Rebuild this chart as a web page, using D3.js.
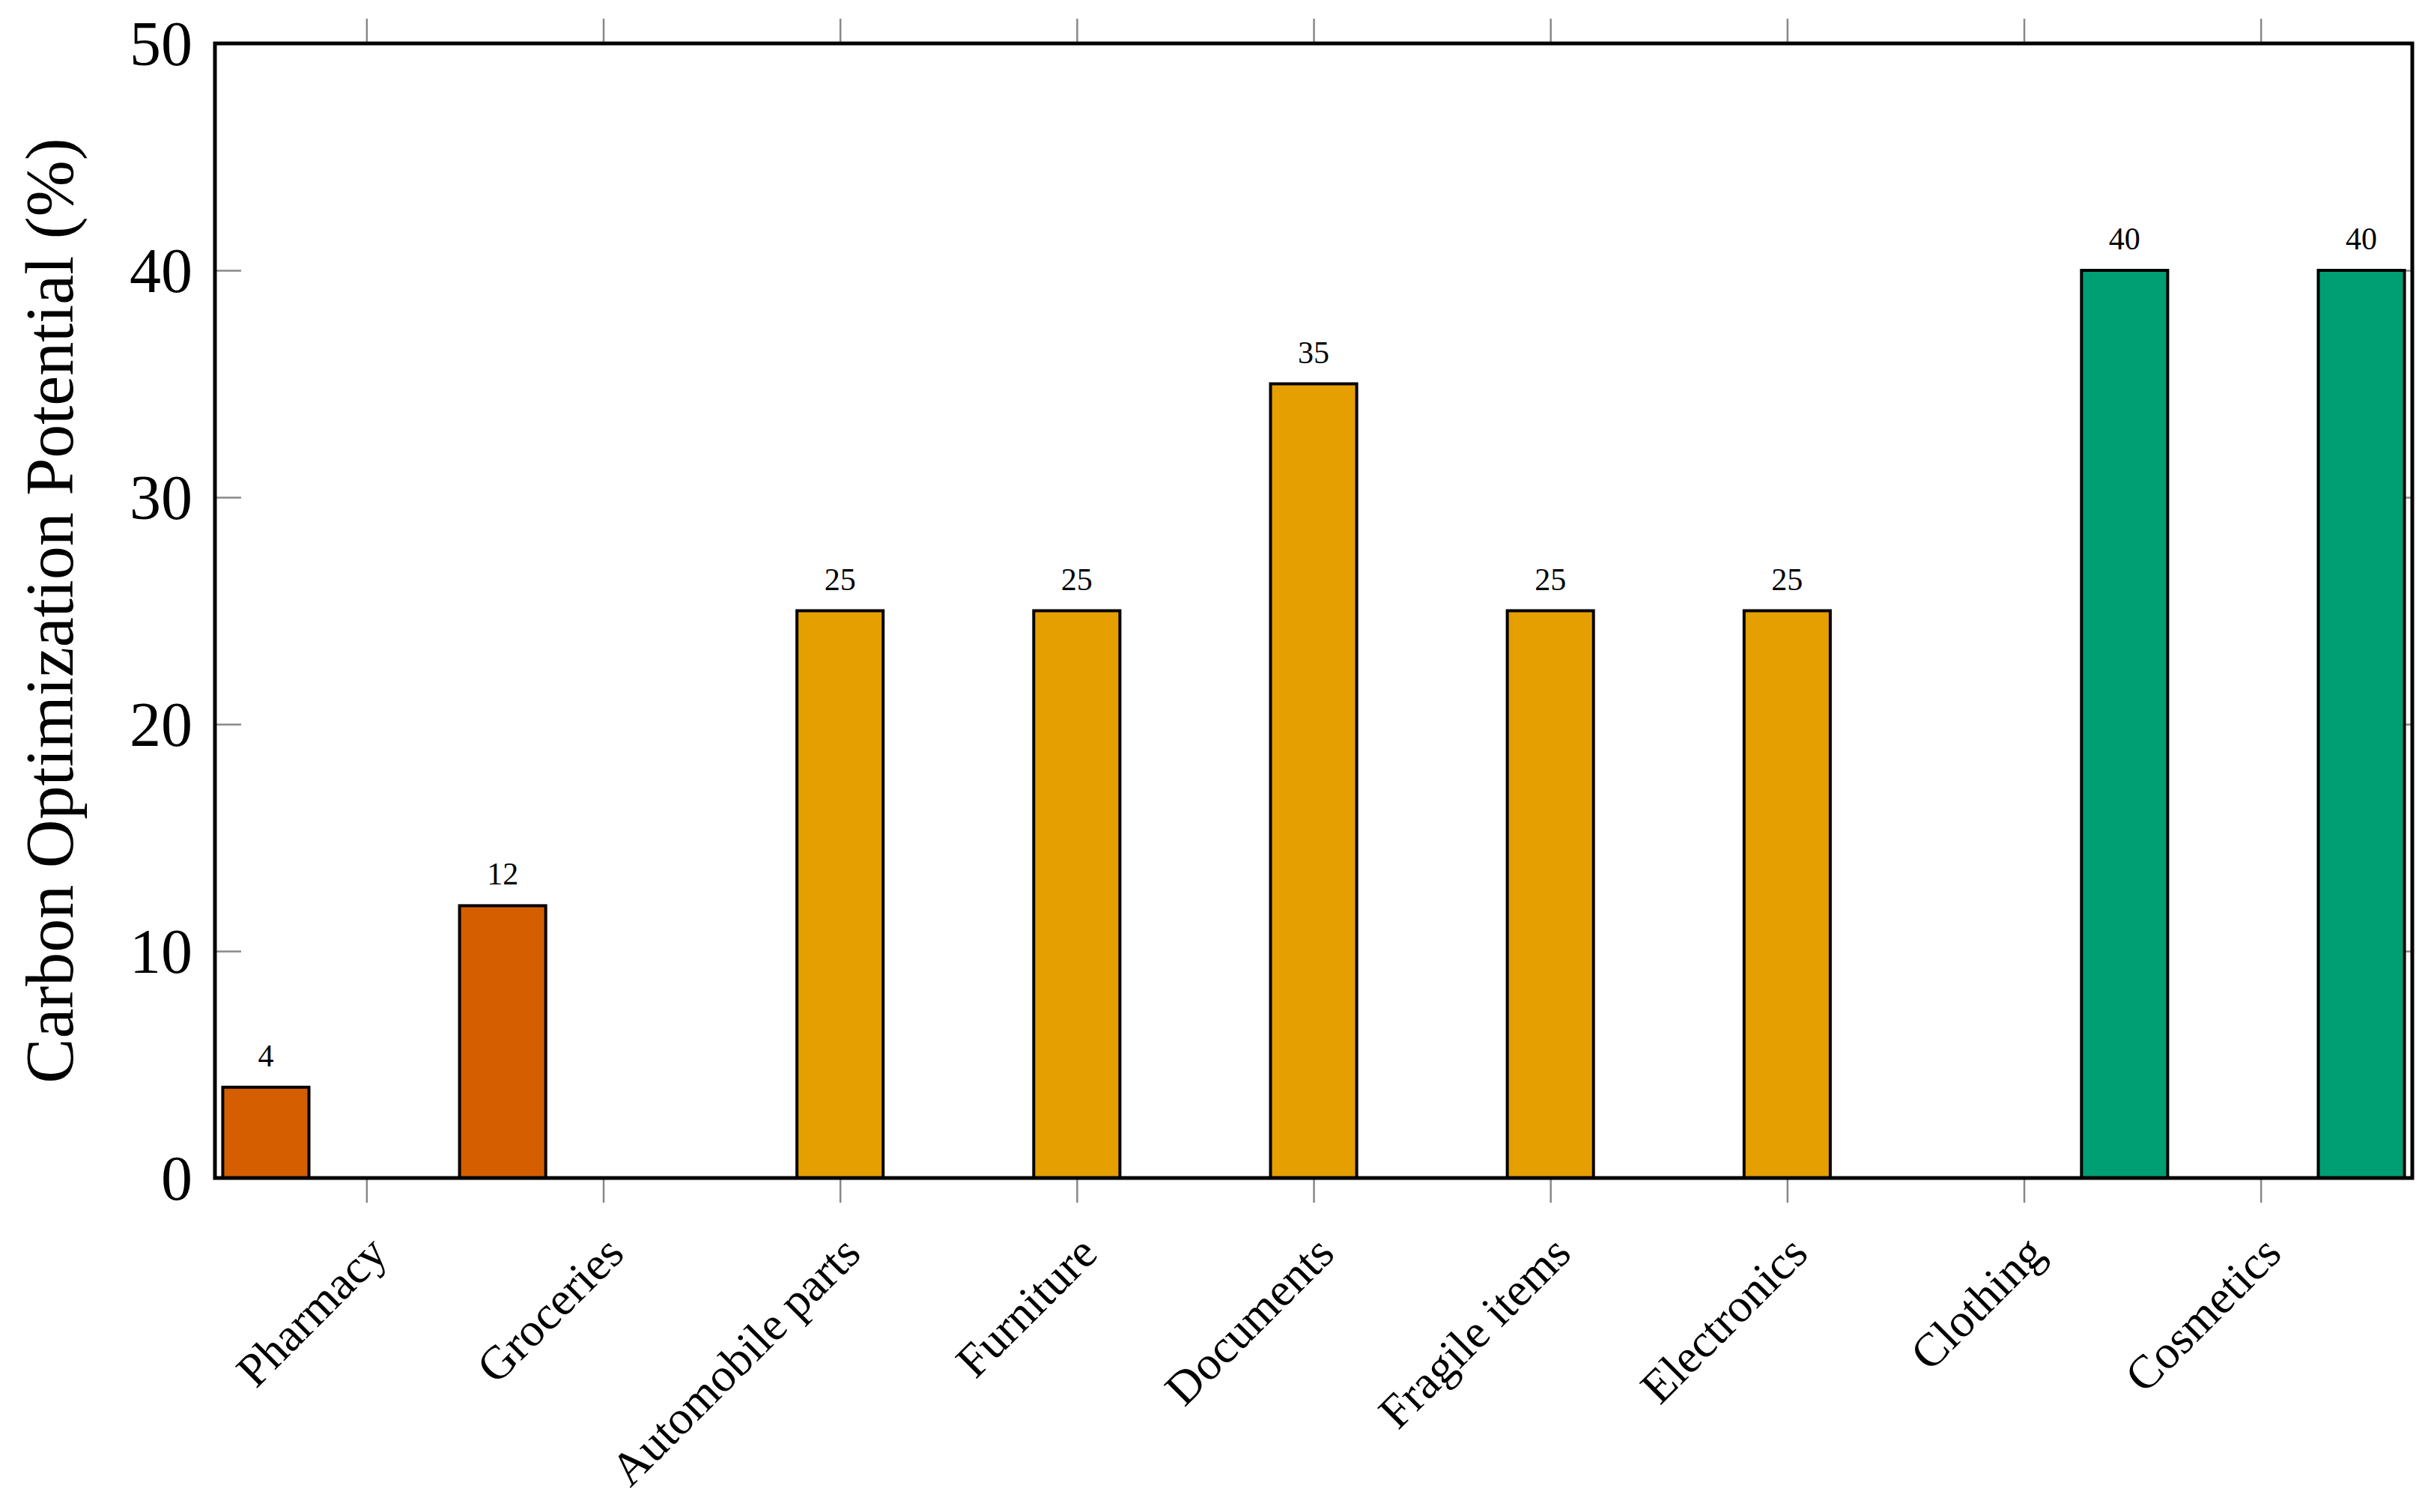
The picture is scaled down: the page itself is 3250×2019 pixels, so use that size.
<!DOCTYPE html>
<html>
<head>
<meta charset="utf-8">
<script src="https://cdn.jsdelivr.net/npm/d3@7"></script>
<style>
  html, body { margin: 0; padding: 0; background: #ffffff; }
  svg { display: block; }
</style>
</head>
<body>
<div id="chart"></div>
<script>
// ---------- data ----------
const categories = ["Pharmacy", "Groceries", "Automobile parts", "Furniture", "Documents",
                    "Fragile items", "Electronics", "Clothing", "Cosmetics"];
const lowSeriesValues    = [4, 12, null, null, null, null, null, null, null];
const mediumSeriesValues = [null, null, 25, 25, 35, 25, 25, null, null];
const highSeriesValues   = [null, null, null, null, null, null, null, 40, 40];
const seriesColors = ["#D55E00", "#E69F00", "#009E73"];
const seriesOffsets = [-1, 0, 1];
const yTickValues = [0, 10, 20, 30, 40, 50];
const yAxisTitle = "Carbon Optimization Potential (%)";

// ---------- layout ----------
const W = 3250, H = 2019;
const margin = { left: 287, top: 58, right: 29, bottom: 446 };
const innerW = W - margin.left - margin.right;
const innerH = H - margin.top - margin.bottom;
const FONT = "'Liberation Serif', 'Times New Roman', serif";

const svg = d3.select("#chart").append("svg")
  .attr("width", W).attr("height", H)
  .attr("viewBox", `0 0 ${W} ${H}`);

const g = svg.append("g").attr("transform", `translate(${margin.left},${margin.top})`);

const x = d3.scalePoint().domain(categories).range([0, innerW]).padding(0.64);
const y = d3.scaleLinear().domain([0, 50]).range([innerH, 0]);

const step = x.step();
const barShift = step * 0.425;
const barW = step * 0.364;

const tickColor = "#888888";

// ---------- ticks (drawn below bars) ----------
const axLeft = g.append("g")
  .call(d3.axisLeft(y).tickValues(yTickValues).tickSize(-35).tickPadding(30).tickFormat(d3.format("d")));
const axRight = g.append("g").attr("transform", `translate(${innerW},0)`)
  .call(d3.axisRight(y).tickValues(yTickValues).tickSize(-35).tickFormat(""));
const axBottom = g.append("g").attr("transform", `translate(0,${innerH})`)
  .call(d3.axisBottom(x).tickSize(33));
const axTop = g.append("g")
  .call(d3.axisTop(x).tickSize(33).tickFormat(""));

[axLeft, axRight, axBottom, axTop].forEach(a => {
  a.select(".domain").remove();
  a.selectAll(".tick line").attr("stroke", tickColor).attr("stroke-width", 2.5);
});

axLeft.selectAll(".tick text")
  .attr("font-family", FONT).attr("font-size", 84).attr("fill", "#000")
  .attr("dy", "0.34em");

axBottom.selectAll(".tick text")
  .attr("font-family", FONT).attr("font-size", 63).attr("fill", "#000")
  .attr("text-anchor", "end")
  .attr("x", 0).attr("y", 0).attr("dy", 0)
  .attr("transform", "translate(30,104) rotate(-45)");

// ---------- bars ----------
const allSeries = [lowSeriesValues, mediumSeriesValues, highSeriesValues];
allSeries.forEach((vals, si) => {
  const data = categories.map((c, i) => ({ c, v: vals[i] })).filter(d => d.v !== null);
  const sg = g.append("g");
  sg.selectAll("rect").data(data).join("rect")
    .attr("x", d => x(d.c) + seriesOffsets[si] * barShift - barW / 2)
    .attr("y", d => y(d.v))
    .attr("width", barW)
    .attr("height", d => y(0) - y(d.v))
    .attr("fill", seriesColors[si])
    .attr("stroke", "#000")
    .attr("stroke-width", 4);
  sg.selectAll("text").data(data).join("text")
    .attr("x", d => x(d.c) + seriesOffsets[si] * barShift)
    .attr("y", d => y(d.v) - 28)
    .attr("text-anchor", "middle")
    .attr("font-family", FONT).attr("font-size", 42).attr("fill", "#000")
    .text(d => d.v);
});

// ---------- frame ----------
g.append("rect")
  .attr("x", 0).attr("y", 0).attr("width", innerW).attr("height", innerH)
  .attr("fill", "none").attr("stroke", "#000").attr("stroke-width", 5);

// ---------- y title ----------
svg.append("text")
  .attr("transform", `translate(97,${margin.top + innerH / 2}) rotate(-90)`)
  .attr("text-anchor", "middle")
  .attr("font-family", FONT).attr("font-size", 90).attr("fill", "#000")
  .text(yAxisTitle);
</script>
</body>
</html>
